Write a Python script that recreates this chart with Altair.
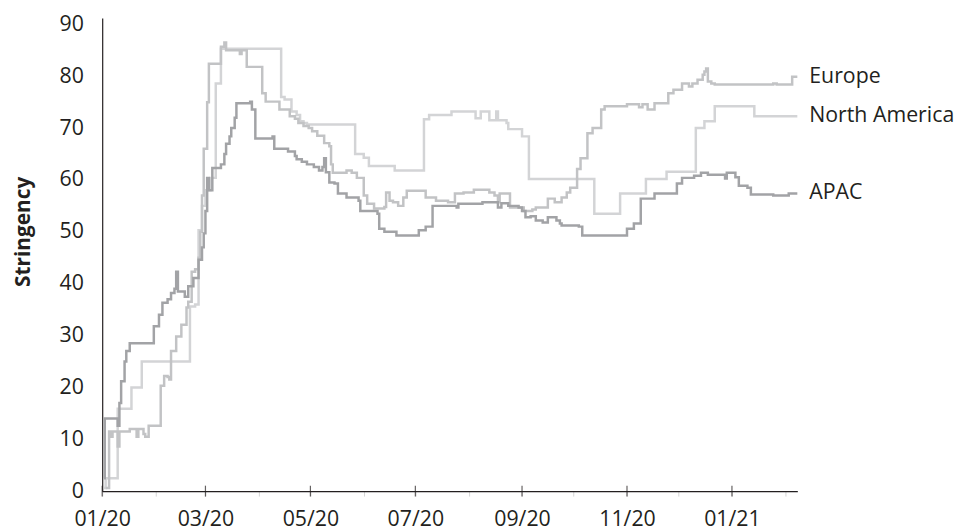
import altair as alt
import pandas as pd

# ---- data (day offset from 2020-01-01, stringency value) ----
series_names = ["North America", "Europe", "APAC"]
series_colors = ["#d3d4d6", "#c2c3c5", "#a2a3a6"]

na_days = [1, 2, 9, 17, 23, 51, 54, 56, 58, 60, 63, 66, 69, 104, 106, 110, 113, 115, 117, 119,
           147, 152, 155, 170, 187, 190, 203, 217, 220, 225, 229, 230, 235, 236, 244, 248,
           286, 301, 316, 328, 345, 350, 356, 379, 404]
na_vals = [0.6, 2.5, 15.9, 20, 25, 35.6, 36, 50.3, 55, 58, 60.4, 78.6, 85.3, 76, 75.5, 73.2, 72.5, 71.3, 71, 70.7,
           65, 64.3, 62.7, 61.8, 71.7, 72.5, 73.2, 71.9, 73.2, 71.5, 73.2, 71.5, 71, 69.8, 68.4, 60.2,
           53.5, 57.4, 60.2, 61.6, 70, 71.3, 74.2, 72.3, 72.3]

eu_days = [2, 4, 5, 6, 9, 10, 16, 20, 21, 24, 25, 27, 34, 36, 38, 39, 40, 43, 46, 49, 50, 52, 54, 56,
           57, 58, 59, 61, 62, 69, 71, 72, 80, 81, 84, 93, 95, 103, 109, 112, 114, 117, 120, 122, 125,
           129, 132, 133, 134, 142, 145, 148, 152, 154, 158, 164, 165, 167, 169, 172, 175, 177, 188,
           194, 201, 205, 210, 216, 225, 228, 230, 231, 237, 245, 250, 252, 259, 263, 267, 270, 272,
           276, 278, 282, 285, 290, 292, 305, 312, 314, 317, 321, 329, 332, 337, 341, 343, 346, 349,
           350, 351, 352, 354, 356, 390, 392, 401, 404]
eu_vals = [0.6, 11.5, 10.5, 11.5, 8.6, 11.5, 12, 10.5, 12, 11, 10.5, 12.6, 20.3, 22.2, 22, 21.5, 27, 29.8,
           32.1, 35.4, 36.5, 42.3, 42.8, 45, 50, 57, 66, 75, 82.4, 85.7, 86.5, 85, 84.3, 85, 81.8, 76.7,
           75.1, 73.6, 72.3, 71.8, 71, 70.4, 70, 69.4, 68.5, 67.1, 66.5, 63, 61.4, 61.8, 61.4, 60.4, 57,
           55.4, 54.5, 54.8, 57.6, 56, 55.7, 55, 56.6, 57.9, 56.6, 56, 55.7, 57.4, 57.6, 58.1, 57.6, 57,
           55.7, 57.4, 54.7, 54, 54.3, 54.7, 56.4, 55.7, 56.6, 57.6, 58.5, 62.1, 64.2, 69, 70, 73.6, 74.2,
           74.6, 74, 74.6, 73.6, 74.8, 76.7, 77.4, 78.6, 78, 78.6, 79.3, 80.3, 80.9, 81.5, 79, 78.6, 78.4,
           78.6, 78.4, 79.9, 79.9]

ap_days = [1, 1.5, 9, 10, 11, 13, 14, 16, 30, 33, 35, 38, 40, 42, 43, 44, 48, 50, 53, 56, 58, 59, 60, 61,
           62, 64, 69, 71, 72, 74, 75, 77, 78, 86, 87, 89, 99, 100, 108, 112, 113, 116, 119, 123, 126,
           128, 129, 130, 132, 135, 137, 142, 149, 150, 160, 161, 164, 171, 184, 188, 192, 206, 207,
           221, 230, 232, 236, 242, 244, 246, 249, 252, 256, 259, 264, 266, 267, 277, 279, 305, 309,
           313, 321, 334, 337, 344, 348, 352, 362, 363, 368, 370, 375, 377, 390, 399, 404]
ap_vals = [2.5, 14, 12.6, 17, 21.2, 25, 27, 28.5, 31.8, 34, 36.3, 37, 38.2, 39, 42.3, 38.5, 37.5, 39.5,
           41.1, 44.6, 47, 49.7, 54, 60.4, 58, 62.3, 63, 65, 67, 68.4, 70, 72, 74.8, 75.1, 73.6, 68, 68.4,
           66, 65.5, 64.6, 64, 63.5, 63, 62.5, 61.8, 62.5, 64.2, 61.5, 59.5, 59.3, 57.4, 56.6, 56, 54,
           53.5, 50.6, 50, 49.3, 50.3, 51, 55, 54.7, 55.4, 55.7, 54.7, 55.5, 55, 54.7, 54, 52.8, 53, 52.2,
           51.8, 52.8, 52.2, 51.6, 51.2, 51, 49.3, 50.6, 51.6, 56.4, 57.4, 59.3, 60.4, 60.8, 61.4, 61,
           60.3, 61.4, 60.5, 58.9, 58.5, 57.2, 57, 57.4, 57.4]

major_tick_months = ["2020-01-01", "2020-03-01", "2020-05-01", "2020-07-01", "2020-09-01",
                     "2020-11-01", "2021-01-01"]
y_ticks = [0, 10, 20, 30, 40, 50, 60, 70, 80, 90]

TEXT = "#231f20"
FONT = "Open Sans"
base = pd.Timestamp("2020-01-01")


def frame(name, days, vals):
    return pd.DataFrame({
        "date": [base + pd.Timedelta(days=d) for d in days],
        "value": vals,
        "series": name,
    })


df = pd.concat([frame("North America", na_days, na_vals),
                frame("Europe", eu_days, eu_vals),
                frame("APAC", ap_days, ap_vals)], ignore_index=True)

labels_df = pd.DataFrame({
    "date": [base + pd.Timedelta(days=d[-1]) for d in (na_days, eu_days, ap_days)],
    "value": [na_vals[-1], eu_vals[-1], ap_vals[-1]],
    "series": series_names,
})

ticks_df = pd.DataFrame({"date": pd.to_datetime(major_tick_months), "value": 0})

month_values = [alt.DateTime(year=2020 + (m // 12), month=(m % 12) + 1, date=1) for m in range(14)]

x_scale = alt.Scale(domain=[alt.DateTime(year=2020, month=1, date=1),
                            alt.DateTime(year=2021, month=2, date=8)])
y_scale = alt.Scale(domain=[0, 91.2], nice=False, zero=True)

x_axis = alt.Axis(values=month_values,
                  labelExpr="month(datum.value) % 2 == 0 ? timeFormat(datum.value, '%m/%y') : ''",
                  title=None, grid=False, domainColor=TEXT, domainWidth=1.2,
                  tickColor="#d6d6d6", tickSize=5, tickWidth=1,
                  labelFont=FONT, labelFontSize=21.5, labelColor=TEXT, labelPadding=13,
                  labelOverlap=False, labelFlush=False, labelBound=False)

y_axis = alt.Axis(values=y_ticks, grid=False, ticks=False, tickSize=0,
                  domainColor=TEXT, domainWidth=1.2,
                  labelFont=FONT, labelFontSize=21.5, labelColor=TEXT, labelPadding=19,
                  title="Stringency", titleFont=FONT, titleFontSize=21, titleFontWeight="bold",
                  titleColor=TEXT, titleAngle=270, titleX=-79, titleY=215,
                  titleAlign="center", titleBaseline="middle")

lines = alt.Chart(df).mark_line(interpolate="step-after", strokeWidth=2.5).encode(
    x=alt.X("date:T", scale=x_scale, axis=x_axis),
    y=alt.Y("value:Q", scale=y_scale, axis=y_axis),
    color=alt.Color("series:N", scale=alt.Scale(domain=series_names, range=series_colors), legend=None),
)

major_ticks = alt.Chart(ticks_df).mark_tick(orient="vertical", size=11, thickness=1.2, color=TEXT).encode(
    x=alt.X("date:T", scale=x_scale),
    y=alt.Y("value:Q", scale=y_scale),
)

labels = alt.Chart(labels_df).mark_text(align="left", baseline="middle", dx=12,
                                        font=FONT, fontSize=21.5, color=TEXT).encode(
    x=alt.X("date:T", scale=x_scale),
    y=alt.Y("value:Q", scale=y_scale),
    text="series:N",
)

chart = alt.layer(lines, major_ticks, labels).properties(
    width=701, height=477,
    autosize=alt.AutoSizeParams(type="none"),
    padding={"left": 95, "top": 8, "right": 159, "bottom": 39},
).configure_view(stroke=None)

chart.save("out.html", embed_options={"renderer": "svg", "actions": False})
